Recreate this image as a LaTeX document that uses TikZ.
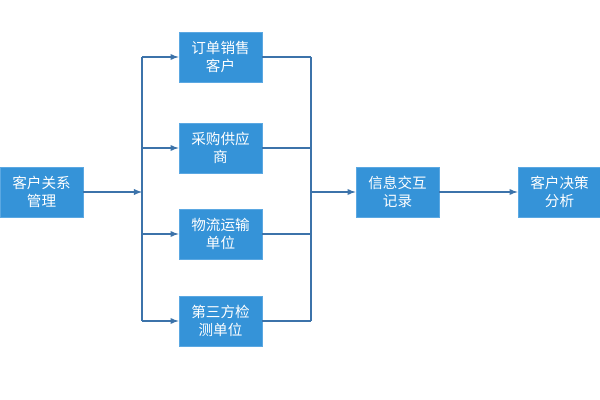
\documentclass[tikz,border=0pt]{standalone}
\usepackage{fontspec}
\setmainfont{Noto Sans CJK SC}
\usepackage{tikz}
\usepackage{xcolor}
\usetikzlibrary{arrows, calc, positioning}
\definecolor{boxfill}{HTML}{3593D8}
\definecolor{boxline}{HTML}{5BA8E2}
\definecolor{linkcol}{HTML}{3C73AA}
\tikzset{
  stage/.style={draw=boxline, fill=boxfill, text=white, minimum width=1.66cm, minimum height=1cm,
    inner sep=0pt, align=center, font=\fontsize{8.3}{10.2}\selectfont},
  link/.style={draw=linkcol, line width=0.6pt},
  flow/.style={link, -latex}
}

\begin{document}
\begin{tikzpicture}
                        \useasboundingbox (0, 0) rectangle (12, -8);
                        \node[stage] (crm) at (0.83, -3.84) {客户关系\\管理};
                        \node[stage] (order) at (4.41, -1.14) {订单销售\\客户};
                        \node[stage] (supply) at (4.41, -2.96) {采购供应\\商};
                        \node[stage] (logis) at (4.41, -4.68) {物流运输\\单位};
                        \node[stage] (check) at (4.41, -6.42) {第三方检\\测单位};
                        \node[stage] (info) at (7.95, -3.84) {信息交互\\记录};
                        \node[stage] (decide) at (11.19, -3.84) {客户决策\\分析};
                        \coordinate (split) at (2.84, -3.84);
                        \coordinate (merge) at (6.22, -3.84);

                        \draw[flow] (crm) -- (split);
                        \draw[link] (split |- order) -- (split |- check);
                        \draw[link] (merge |- order) -- (merge |- check);
                        \draw[flow] (split |- order) -- (order);
                        \draw[flow] (split |- supply) -- (supply);
                        \draw[flow] (split |- logis) -- (logis);
                        \draw[flow] (split |- check) -- (check);
                        \draw[link] (order) -- (merge |- order);
                        \draw[link] (supply) -- (merge |- supply);
                        \draw[link] (logis) -- (merge |- logis);
                        \draw[link] (check) -- (merge |- check);
                        \draw[flow] (merge) -- (info);
                        \draw[flow] (info) -- (decide);
                    \end{tikzpicture}
\end{document}
